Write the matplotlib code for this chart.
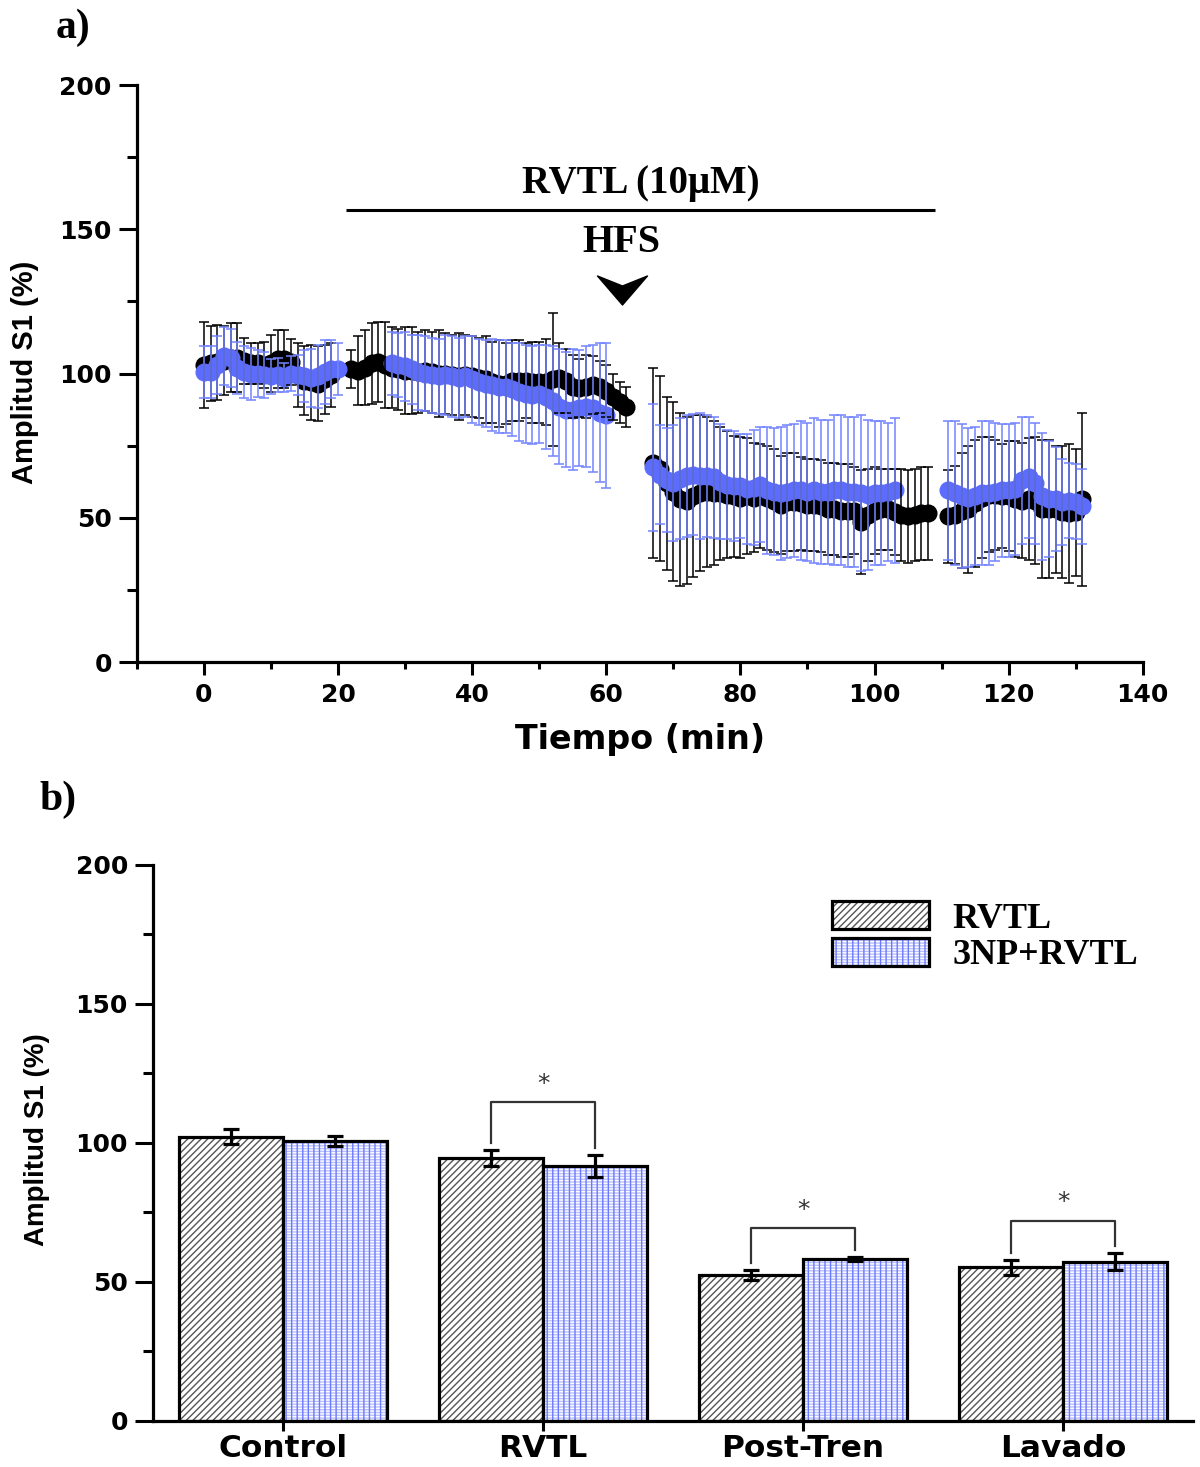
import numpy as np
import matplotlib
matplotlib.use('Agg')
import matplotlib.pyplot as plt
from matplotlib.path import Path
from matplotlib.patches import Patch
from matplotlib.ticker import MultipleLocator

# --- a) curso temporal, amplitud S1 (%) ---
t_rvtl = list(range(0, 20)) + list(range(22, 64)) + list(range(67, 109)) + list(range(111, 132))
amp_rvtl = [103, 103.5, 104, 104.5, 105.5, 105.5, 104.5, 103.5, 103.5, 103,
            103.5, 105, 105, 104, 99.5, 97.5, 97, 96.5, 98, 99.5,
            # 22-63
            101.5, 101, 102, 103.5, 104, 103, 102, 101.5, 101, 101,
            100.5, 101, 100.5, 100, 100, 99.5, 99, 99.5, 99, 98.5,
            98, 97, 96.5, 96.5, 97.5, 97.5, 97.5, 97, 97, 97,
            98, 98.5, 97.5, 95.5, 95, 95.5, 96, 95.5, 94, 92,
            90, 88.5,
            # 67-108
            69, 67, 62, 59, 56.5, 56, 57.5, 58.5, 59, 58.5,
            58.5, 58, 57.5, 57, 57.5, 57, 57.5, 57, 56, 54.5,
            55.5, 55.5, 55, 54.5, 54.5, 54, 53, 53, 52.5, 52.5,
            52.5, 48.5, 51, 52.5, 53, 53, 52, 51, 50.5, 51,
            51.5, 51.5,
            # 111-131
            50.5, 51, 52.5, 53, 55, 57, 58, 58, 57.5, 57.5,
            56.5, 56, 56.5, 56, 53, 53, 53, 52, 51.5, 52,
            56.5]
err_rvtl = [15, 13, 13, 12, 12, 12, 8, 7, 7, 8,
            10, 10, 10, 8, 11, 12, 13, 13, 12, 11,
            6.5, 12, 13, 14, 14, 15, 14, 14, 15, 15,
            14, 14, 14, 15, 14, 14, 15, 14, 14, 14,
            15, 14, 15, 14, 14, 14, 13, 14, 14, 15,
            23, 12, 11, 11, 10, 11, 10, 9, 9, 8,
            7, 7,
            33, 32, 30, 31, 30, 29, 28, 27, 26, 25,
            23, 22, 21, 21, 20, 19, 18, 18, 18, 17,
            17, 17, 16, 16, 16, 16, 16, 16, 16, 16,
            15, 18, 16, 15, 14, 14, 15, 16, 16, 16,
            16, 16,
            16, 17, 20, 22, 22, 21, 20, 19, 18, 19,
            20, 20, 21, 22, 24, 24, 22, 23, 24, 22,
            30]

t_np = list(range(0, 21)) + list(range(28, 61)) + list(range(67, 104)) + list(range(111, 132))
amp_np = [100.5, 100.5, 103, 106, 105.5, 102, 100.5, 100, 100, 99.5,
          99, 99.5, 98.5, 100, 99.5, 99, 98.5, 99, 100.5, 101.5,
          101.5,
          # 28-60
          103.5, 103, 102.5, 101.5, 100.5, 100, 99.5, 99, 99.5, 99,
          98.5, 99, 98, 97, 96.5, 96, 95.5, 95.5, 94.5, 93.5,
          93, 92.5, 93, 92, 90.5, 88.5, 87.5, 87.5, 88, 88.5,
          88, 86.5, 85.5,
          # 67-103
          67.5, 65, 63, 62, 63.5, 64.5, 65, 64.5, 64.5, 64,
          62.5, 61.5, 61, 61, 60, 60.5, 61.5, 59.5, 59, 58.5,
          59, 59.5, 59.5, 59, 59.5, 59, 59, 59.5, 59.5, 59,
          59, 58.5, 58, 58.5, 58.5, 59, 59.5,
          # 111-131
          59.5, 58.5, 57.5, 57, 57.5, 58.5, 58.5, 59, 59.5, 59.5,
          60, 63, 64, 62, 57.5, 56.5, 56.5, 55.5, 56, 55.5,
          54]
err_np = [9, 9, 10, 10, 10, 9, 9, 9, 8, 8,
          6, 6, 5, 6, 7, 9, 10, 11, 11, 10,
          9,
          11, 11, 12, 12, 13, 13, 13, 13, 14, 14,
          14, 14, 15, 15, 15, 16, 16, 16, 16, 17,
          17, 17, 17, 18, 19, 20, 20, 21, 20, 21,
          22, 24, 25,
          22, 17, 18, 20, 21, 21, 21, 22, 21, 21,
          20, 19, 19, 18, 19, 20, 20, 22, 22, 23,
          23, 23, 24, 24, 25, 25, 25, 26, 26, 26,
          26, 27, 26, 25, 25, 24, 25,
          24, 25, 25, 24, 24, 25, 25, 24, 23, 23,
          23, 22, 21, 21, 22, 20, 18, 15, 13, 13,
          13]

# --- b) barras por fase ---
fases = ['Control', 'RVTL', 'Post-Tren', 'Lavado']
rvtl_mean = [102.3, 94.5, 52.5, 55.3]
rvtl_sem = [2.8, 2.9, 1.8, 2.7]
np_mean = [100.8, 91.7, 58.3, 57.3]
np_sem = [1.8, 3.9, 0.7, 3.1]
sig_fases = [1, 2, 3]
sig_top = [114.6, 69.5, 72.1]

BLUE = '#5b6cff'
BLUE_ERR = '#7384ff'
DIAG = '#555555'
SERIF = ['Liberation Serif', 'DejaVu Serif']
SANS = ['DejaVu Sans']

plt.rcParams['font.family'] = SANS
plt.rcParams['font.weight'] = 'bold'
plt.rcParams['hatch.linewidth'] = 1.0

fig = plt.figure(figsize=(12, 14.67), dpi=100)


def style_axes(ax, xmajor_len):
    for side in ['top', 'right']:
        ax.spines[side].set_visible(False)
    for side in ['left', 'bottom']:
        ax.spines[side].set_linewidth(2.3)
    ax.tick_params(axis='y', which='major', direction='out', length=13, width=2.2,
                   labelsize=18, pad=5)
    ax.tick_params(axis='y', which='minor', direction='out', length=7, width=2.2)
    ax.tick_params(axis='x', which='major', direction='out', length=xmajor_len, width=2.2,
                   labelsize=18, pad=6)
    ax.tick_params(axis='x', which='minor', direction='out', length=5, width=2.2)
    ax.set_ylim(0, 200)
    ax.yaxis.set_major_locator(MultipleLocator(50))
    ax.yaxis.set_minor_locator(MultipleLocator(25))


# ---------------- panel a ----------------
ax1 = fig.add_axes([0.114, 0.5487, 0.8383, 0.3933])
style_axes(ax1, 9)
ax1.set_xlim(-10, 140)
ax1.xaxis.set_major_locator(MultipleLocator(20))
ax1.xaxis.set_minor_locator(MultipleLocator(10))

ax1.plot(t_rvtl, amp_rvtl, 'o', ms=12, color='black', mec='black', zorder=2)
ax1.plot(t_np, amp_np, 'o', ms=12, color=BLUE, mec=BLUE, zorder=2.1)
ax1.errorbar(t_rvtl, amp_rvtl, yerr=err_rvtl, fmt='none', ecolor='black',
             elinewidth=1.1, capsize=3.8, capthick=1.1, zorder=3)
ax1.errorbar(t_np, amp_np, yerr=err_np, fmt='none', ecolor=BLUE_ERR,
             elinewidth=1.1, capsize=3.8, capthick=1.1, zorder=3.1)

# barra de aplicacion del farmaco y estimulo HFS
ax1.plot([21.2, 109], [156.7, 156.7], color='black', lw=2.2, solid_capstyle='butt')
ax1.text(65.2, 165.8, 'RVTL (10\u03bcM)', ha='center', va='center',
         family=SERIF, fontsize=28, fontweight='bold')
ax1.text(62.3, 145.5, 'HFS', ha='center', va='center',
         family=SERIF, fontsize=29, fontweight='bold')
flecha = Path([(-1, 0.58), (0, 0.18), (1, 0.58), (0, -0.58), (-1, 0.58)],
              [Path.MOVETO, Path.LINETO, Path.LINETO, Path.LINETO, Path.CLOSEPOLY])
ax1.plot([62.3], [129], marker=flecha, ms=36, color='black', mec='black', lw=0)

fig.text(0.5333, 0.4956, 'Tiempo (min)', ha='center', va='center',
         fontsize=24, fontweight='bold')
fig.text(0.021, 0.7464, 'Amplitud S1 (%)', ha='center', va='center', rotation=90,
         family=['Liberation Sans', 'DejaVu Sans'], fontsize=21, fontweight='bold')
fig.text(0.046, 0.981, 'a)', ha='left', va='center', family=SERIF,
         fontsize=30, fontweight='bold')

# ---------------- panel b ----------------
ax2 = fig.add_axes([0.1275, 0.0314, 0.8667, 0.379])
style_axes(ax2, 7)
ax2.set_xlim(-0.5, 3.5)
x = np.arange(len(fases))
w = 0.4

ax2.bar(x - w / 2, rvtl_mean, w, color='white', edgecolor=DIAG, hatch='/////', lw=0)
ax2.bar(x - w / 2, rvtl_mean, w, fill=False, edgecolor='black', lw=2.3)
ax2.bar(x + w / 2, np_mean, w, color='white', edgecolor='#b9c0ff', hatch='------', lw=0)
ax2.bar(x + w / 2, np_mean, w, color='none', edgecolor='#6a78ff', hatch='|||', lw=0)
ax2.bar(x + w / 2, np_mean, w, fill=False, edgecolor='black', lw=2.3)

ax2.errorbar(x - w / 2, rvtl_mean, yerr=rvtl_sem, fmt='none', ecolor='black',
             elinewidth=2.3, capsize=6, capthick=2.3, zorder=4)
ax2.errorbar(x + w / 2, np_mean, yerr=np_sem, fmt='none', ecolor='black',
             elinewidth=2.3, capsize=6, capthick=2.3, zorder=4)

# corchetes de significancia
for i, top in zip(sig_fases, sig_top):
    xl, xr = i - w / 2, i + w / 2
    yl = rvtl_mean[i] + rvtl_sem[i] + 2.5
    yr = np_mean[i] + np_sem[i] + 2.5
    ax2.plot([xl, xl, xr, xr], [yl, top, top, yr], color='#333333', lw=1.6)
    ax2.text(i, top + 6.5, '*', ha='center', va='center', fontsize=18,
             fontweight='normal', color='#333333')

ax2.set_xticks(x)
ax2.set_xticklabels(fases, fontsize=22.5, fontweight='bold')
ax2.tick_params(axis='x', pad=2.5)

h_rvtl = (Patch(facecolor='white', edgecolor=DIAG, hatch='/////', lw=0),
          Patch(fill=False, edgecolor='black', lw=2.3))
h_np = (Patch(facecolor='white', edgecolor='#b9c0ff', hatch='------', lw=0),
        Patch(facecolor='none', edgecolor='#6a78ff', hatch='|||', lw=0),
        Patch(fill=False, edgecolor='black', lw=2.3))
ax2.legend([h_rvtl, h_np], ['RVTL', '3NP+RVTL'], loc='upper left',
           bbox_to_anchor=(0.653, 0.935), frameon=False, borderpad=0, borderaxespad=0,
           handlelength=2.69, handleheight=0.83, handletextpad=0.64, labelspacing=0.05,
           prop={'family': SERIF, 'size': 26, 'weight': 'bold'})

fig.text(0.031, 0.2229, 'Amplitud S1 (%)', ha='center', va='center', rotation=90,
         family=['Liberation Sans', 'DejaVu Sans'], fontsize=20, fontweight='bold')
fig.text(0.033, 0.4547, 'b)', ha='left', va='center', family=SERIF,
         fontsize=30, fontweight='bold')

fig.savefig('out.png', dpi=100)
